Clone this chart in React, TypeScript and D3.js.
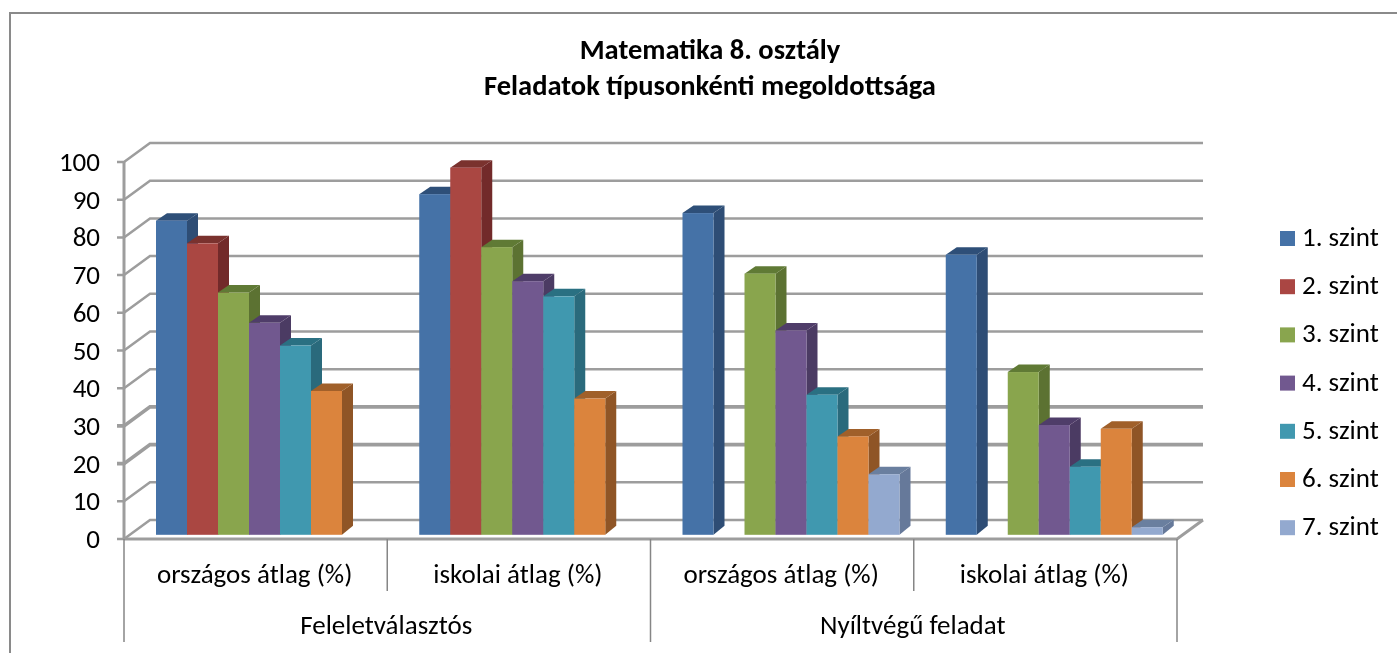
import React from "react";
import * as d3 from "d3";

const groups = ["országos átlag (%)", "iskolai átlag (%)", "országos átlag (%)", "iskolai átlag (%)"];
const parents = ["Feleletválasztós", "Nyíltvégű feladat"];
const seriesNames = ["1. szint", "2. szint", "3. szint", "4. szint", "5. szint", "6. szint", "7. szint"];
const colors = ["#4572a7", "#aa4643", "#89a54e", "#71588f", "#4198af", "#db843d", "#93a9cf"];
const tops = ["#2f5078", "#7a302e", "#607a35", "#503c69", "#2b6f82", "#a0602a", "#6b7f9f"];
const sides = ["#2e4d75", "#722c2a", "#5c7232", "#4c3a63", "#2a6b7c", "#8f5526", "#66799a"];
const v1 = [83, 90, 85, 74];
const v2 = [77, 97, null, null];
const v3 = [64, 76, 69, 43];
const v4 = [56, 67, 54, 29];
const v5 = [50, 63, 37, 18];
const v6 = [38, 36, 26, 28];
const v7 = [null, null, 16, 2];
const values = [v1, v2, v3, v4, v5, v6, v7];
const ticks = d3.range(0, 101, 10);

const W = 1397, H = 653;
const axisX = 124, axisR = 1177, yFront0 = 539, yFront100 = 162;
const dxWall = 26, dyWall = -19;
const barDx = 11, barDy = -7.5, barBaseDy = -9;
const yWall = d3.scaleLinear().domain([0, 100]).range([yFront0, yFront100]);
const yBar = d3.scaleLinear().domain([0, 100]).range([534.8, 156.3]);
const xGroup = d3.scaleBand<number>().domain(d3.range(4)).range([axisX, axisR]);
const xBar = d3.scaleBand<number>().domain(d3.range(7)).paddingInner(0);
const grid = "#9d9d9d";
const font = "Carlito, Calibri, 'Open Sans', 'Noto Sans', sans-serif";

export default function App() {
  const bars: React.ReactNode[] = [];
  d3.range(4).forEach((g) => {
    const g0 = xGroup(g)!;
    const scale = xBar.copy().range([g0 + 32, g0 + 32 + 31 * 7]);
    d3.range(7).forEach((s) => {
      const v = values[s][g];
      if (v == null) return;
      const x = scale(s)!, w = scale.bandwidth(), y = yBar(v), b = yBar(0);
      bars.push(
        <g key={`${g}-${s}`}>
          <path d={`M${x + w},${y}L${x + w + barDx},${y + barDy}V${b + barBaseDy}L${x + w},${b}Z`} fill={sides[s]} />
          <path d={`M${x},${y}L${x + barDx},${y + barDy}H${x + w + barDx}L${x + w},${y}Z`} fill={tops[s]} />
          <rect x={x} y={y} width={w} height={b - y} fill={colors[s]} />
        </g>
      );
    });
  });

  return (
    <svg width={W} height={H} style={{ position: "absolute", left: 0, top: 0, background: "#fff" }}>
      <defs>
        <filter id="soft" x="-2%" y="-2%" width="104%" height="104%">
          <feGaussianBlur stdDeviation="0.45" />
        </filter>
        <filter id="softText" x="-2%" y="-5%" width="104%" height="110%">
          <feGaussianBlur stdDeviation="0.3" />
        </filter>
      </defs>
      <path d={`M10,${H}V13H${W}`} fill="none" stroke="#8a8a8a" strokeWidth={2} />
      <g filter="url(#soft)">
        {ticks.map((t) => (
          <path key={t} d={`M${axisX - 7},${yWall(t)}H${axisX}L${axisX + dxWall},${yWall(t) + dyWall}H${axisR + dxWall}`}
            fill="none" stroke={grid} strokeWidth={t === 20 || t === 30 ? 3.6 : 2.5} />
        ))}
        <path d={`M${axisX},${yFront0}H${axisR}L${axisR + dxWall},${yFront0 + dyWall}`} fill="none" stroke={grid} strokeWidth={3} />
        <path d={`M${axisX},${yFront100}V${yFront0}`} fill="none" stroke={grid} strokeWidth={3} />
        {bars}
      </g>
      <g stroke="#868686" strokeWidth={1.5}>
        <line x1={axisX} x2={axisX} y1={yFront0} y2={642} />
        <line x1={xGroup(1)} x2={xGroup(1)} y1={yFront0} y2={591} />
        <line x1={xGroup(2)} x2={xGroup(2)} y1={yFront0} y2={642} />
        <line x1={xGroup(3)} x2={xGroup(3)} y1={yFront0} y2={591} />
        <line x1={axisR} x2={axisR} y1={yFront0} y2={642} />
      </g>
      <g filter="url(#softText)" fontFamily={font} fill="#000">
        <g textAnchor="middle" fontWeight={700} fontSize={28.5}>
          <text x={710} y={59}>Matematika 8. osztály</text>
          <text x={710} y={95}>Feladatok típusonkénti megoldottsága</text>
        </g>
        <g fontSize={27} textAnchor="end">
          {ticks.map((t) => (
            <text key={t} x={100} y={yWall(t) + 9}>{t}</text>
          ))}
        </g>
        <g fontSize={27} textAnchor="middle">
          {groups.map((g, i) => (
            <text key={i} x={xGroup(i)! + xGroup.bandwidth() / 2 - 1} y={583}>{g}</text>
          ))}
          {parents.map((p, i) => (
            <text key={i} x={axisX + (axisR - axisX) * (i * 2 + 1) / 4 - 1} y={634}>{p}</text>
          ))}
        </g>
        <g fontSize={27}>
          {seriesNames.map((n, i) => (
            <text key={n} x={1302} y={246 + 48.2 * i}>{n}</text>
          ))}
        </g>
      </g>
      {seriesNames.map((n, i) => (
        <rect key={n} x={1280} y={231 + 48.2 * i} width={15} height={15} fill={colors[i]} />
      ))}
    </svg>
  );
}
